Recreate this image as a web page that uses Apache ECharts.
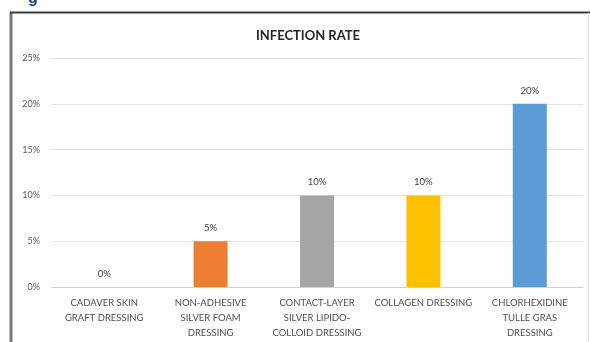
<!DOCTYPE html>
<html>
<head>
<meta charset="utf-8">
<script src="https://cdn.jsdelivr.net/npm/echarts@6/dist/echarts.min.js"></script>
<style>
  html, body { margin: 0; padding: 0; background: #fff; }
  #chart { width: 590px; height: 342px; }
</style>
</head>
<body>
<div id="chart"></div>
<script>
const categories = [
  'CADAVER SKIN\nGRAFT DRESSING',
  'NON-ADHESIVE\nSILVER FOAM\nDRESSING',
  'CONTACT-LAYER\nSILVER LIPIDO-\nCOLLOID DRESSING',
  'COLLAGEN DRESSING',
  'CHLORHEXIDINE\nTULLE GRAS\nDRESSING'
]
const infectionRate = [0, 5, 10, 10, 20]
const barColors = ['#a5a5a5', '#ed7d31', '#a5a5a5', '#ffc000', '#5b9bd5']
const yTicks = [0, 5, 10, 15, 20, 25]

const chart = echarts.init(document.getElementById('chart'))

const option = {
  animation: false,
  textStyle: { fontFamily: 'Lato, "Open Sans", sans-serif' },
  title: {
    text: 'INFECTION RATE',
    left: 303,
    textAlign: 'center',
    top: 24,
    textStyle: { fontSize: 13, fontWeight: 'bold', color: '#262626' }
  },
  graphic: [
    {
      type: 'text',
      left: 28,
      top: -9,
      style: { text: 'g', fontSize: 16, fontWeight: 'bold', fill: '#1f3d8a' }
    },
    {
      type: 'line',
      shape: { x1: 11, y1: 12, x2: 11, y2: 342 },
      style: { stroke: '#7a7a7a', lineWidth: 3 }
    },
    {
      type: 'line',
      shape: { x1: 10, y1: 12.5, x2: 590, y2: 12.5 },
      style: { stroke: '#3a3a3a', lineWidth: 2 }
    },
    {
      type: 'line',
      shape: { x1: 588.5, y1: 13, x2: 588.5, y2: 342 },
      style: { stroke: '#e6e6e6', lineWidth: 1 }
    }
  ],
  grid: { left: 51, right: 7, top: 58, bottom: 55 },
  xAxis: {
    type: 'category',
    data: categories,
    axisTick: { show: false },
    axisLine: { lineStyle: { color: '#d0d0d0' } },
    axisLabel: {
      interval: 0,
      fontSize: 9.5,
      lineHeight: 15,
      margin: 8,
      color: '#4d4d4d'
    }
  },
  yAxis: {
    type: 'value',
    min: yTicks[0],
    max: yTicks[yTicks.length - 1],
    interval: 5,
    axisLabel: {
      formatter: '{value}%',
      fontSize: 9,
      color: '#595959',
      margin: 11
    },
    splitLine: { lineStyle: { color: '#e3e3e3' } }
  },
  series: [
    {
      name: 'Infection rate',
      type: 'bar',
      barWidth: 34,
      data: infectionRate.map((val, idx) => ({
        value: val,
        itemStyle: { color: barColors[idx] }
      })),
      label: {
        show: true,
        position: 'top',
        formatter: '{c}%',
        fontSize: 9.5,
        color: '#404040',
        distance: 8
      }
    }
  ]
}

chart.setOption(option)
</script>
</body>
</html>
